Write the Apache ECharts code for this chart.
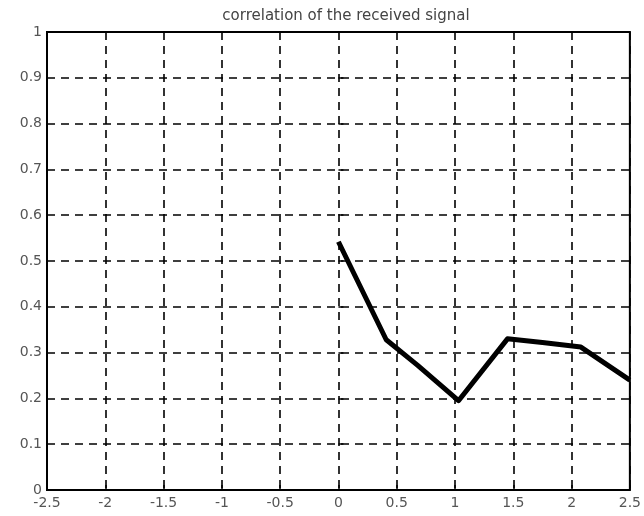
<!DOCTYPE html>
<html>
<head>
<meta charset="utf-8">
<script src="https://cdn.jsdelivr.net/npm/echarts@6/dist/echarts.min.js"></script>
<style>
  html, body { margin: 0; padding: 0; background: #fff; }
  #corr { width: 644px; height: 516px; }
</style>
</head>
<body>
<div id="corr"></div>
<script>
// sample positions and correlation values
var lagX = [0, 0.41, 0.68, 1.03, 1.45, 1.75, 2.08, 2.5];
var corrY = [0.542, 0.328, 0.272, 0.195, 0.33, 0.322, 0.312, 0.24];

var points = [];
for (var i = 0; i < lagX.length; i++) {
    points.push([lagX[i], corrY[i]]);
}

var chart = echarts.init(document.getElementById('corr'));
var font = 'DejaVu Sans';
var gridDash = { color: '#000', type: [8, 6], width: 1.6 };
var option = {
    backgroundColor: '#fff',
    animation: false,
    title: {
        text: 'correlation of the received signal',
        left: 341,
        textAlign: 'center',
        top: 4,
        textStyle: { fontSize: 15, fontWeight: 'normal', color: '#444', fontFamily: font }
    },
    grid: {
        left: 47, top: 32, right: 12, bottom: 26,
        show: true, borderColor: '#000', borderWidth: 2, backgroundColor: '#fff'
    },
    xAxis: {
        type: 'value',
        min: -2.5, max: 2.5, interval: 0.5,
        axisLine: { show: false },
        axisTick: { show: true, inside: true, length: 5, lineStyle: { color: '#000', width: 1.5 } },
        axisLabel: { color: '#555', fontSize: 14, fontFamily: font, margin: 6 },
        splitLine: { show: true, lineStyle: gridDash }
    },
    yAxis: {
        type: 'value',
        min: 0, max: 1, interval: 0.1,
        axisLine: { show: false },
        axisTick: { show: true, inside: true, length: 5, lineStyle: { color: '#000', width: 1.5 } },
        axisLabel: { color: '#555', fontSize: 14, fontFamily: font, margin: 5 },
        splitLine: { show: true, lineStyle: gridDash }
    },
    series: [
        {
            type: 'line',
            data: points,
            symbol: 'none',
            lineStyle: { color: '#000', width: 5, join: 'round' },
            z: 5
        }
    ]
};
if (option && typeof option === "object") {
    chart.setOption(option, true);
}
</script>
</body>
</html>
